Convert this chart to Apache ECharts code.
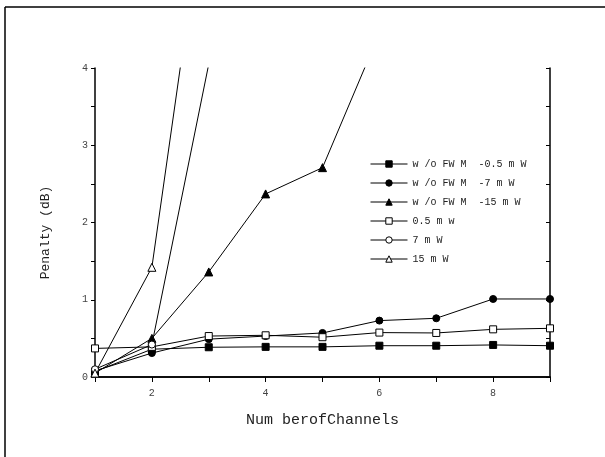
<!DOCTYPE html>
<html>
<head>
<meta charset="utf-8">
<script src="https://cdn.jsdelivr.net/npm/echarts@6/dist/echarts.min.js"></script>
<style>
html,body{margin:0;padding:0;background:#fff;}
#c{width:605px;height:457px;}
</style>
</head>
<body>
<div id="c"></div>
<script>
var channels = [1, 2, 3, 4, 5, 6, 7, 8, 9];
var seriesNames = ['w /o FW M  -0.5 m W', 'w /o FW M  -7 m W', 'w /o FW M  -15 m W', '0.5 m w', '7 m W', '15 m W'];
var fwm05 = [0.07, 0.36, 0.385, 0.39, 0.39, 0.405, 0.405, 0.415, 0.405];
var fwm7  = [0.08, 0.31, 0.49, 0.53, 0.57, 0.73, 0.76, 1.01, 1.01];
var fwm15 = [0.05, 0.50, 1.36, 2.37, 2.71, 4.45];
var mw05  = [0.37, 0.39, 0.53, 0.54, 0.515, 0.575, 0.57, 0.617, 0.63];
var mw7   = [0.10, 0.42, 4.05];
var mw15  = [0.05, 1.42, 6.6];
var xTicks = [2, 4, 6, 8];
var yTicks = [0, 1, 2, 3, 4];

var FONT = 'Liberation Mono';
function pairs(vals){ return vals.map(function(v,i){ return [channels[i], v]; }); }
function mk(name, vals, symbol, filled, size){
  return {
    name: name, type: 'line', data: pairs(vals), symbol: symbol, symbolSize: size,
    clip: true, animation: false,
    lineStyle: {color: '#000', width: 1},
    itemStyle: {color: filled ? '#000' : '#fff', borderColor: '#000', borderWidth: 1},
    emphasis: {disabled: true}
  };
}
var chart = echarts.init(document.getElementById('c'));
chart.setOption({
  backgroundColor: '#fff',
  animation: false,
  graphic: [
    {type: 'line', shape: {x1: 5, y1: 7, x2: 605, y2: 7}, style: {stroke: '#000', lineWidth: 1.5}},
    {type: 'line', shape: {x1: 5, y1: 7, x2: 5, y2: 457}, style: {stroke: '#000', lineWidth: 1.5}}
  ],
  grid: {left: 95, right: 55, top: 68, bottom: 80},
  legend: {
    orient: 'vertical', left: 370, top: 159, padding: 0, itemWidth: 37, itemHeight: 8, itemGap: 9,
    data: seriesNames,
    lineStyle: {width: 1, color: '#000'},
    itemStyle: {borderWidth: 1},
    textStyle: {fontFamily: FONT, fontSize: 10, color: '#222', lineHeight: 10}
  },
  xAxis: [
    {type: 'value', min: 1, max: 9, interval: 1, position: 'bottom',
     name: 'Num berofChannels', nameLocation: 'middle', nameGap: 36,
     nameTextStyle: {fontFamily: FONT, fontSize: 15, color: '#222'},
     axisLine: {lineStyle: {color: '#000', width: 1.5}},
     axisTick: {inside: false, length: 4, lineStyle: {color: '#000'}},
     axisLabel: {fontFamily: FONT, fontSize: 10, color: '#444', margin: 11,
       formatter: function(v){ return xTicks.indexOf(v) >= 0 ? String(v) : ''; }},
     splitLine: {show: false}},
    {type: 'value', min: 1, max: 9, interval: 1, position: 'top',
     axisLine: {lineStyle: {color: '#000', width: 1.5}},
     axisTick: {inside: true, length: 5, lineStyle: {color: '#000'}},
     axisLabel: {show: false}, splitLine: {show: false}}
  ],
  yAxis: [
    {type: 'value', min: 0, max: 4, interval: 0.5, position: 'left',
     name: 'Penalty (dB)', nameLocation: 'middle', nameGap: 43,
     nameTextStyle: {fontFamily: FONT, fontSize: 13, color: '#222', padding: [0, 20, 0, 0]},
     axisLine: {lineStyle: {color: '#000', width: 1.5}},
     axisTick: {inside: false, length: 4, lineStyle: {color: '#000'}},
     axisLabel: {fontFamily: FONT, fontSize: 10, color: '#444', margin: 7,
       formatter: function(v){ return yTicks.indexOf(v) >= 0 ? String(v) : ''; }},
     splitLine: {show: false}},
    {type: 'value', min: 0, max: 4, interval: 0.5, position: 'right',
     axisLine: {lineStyle: {color: '#000', width: 1.5}},
     axisTick: {inside: true, length: 4, lineStyle: {color: '#000'}},
     axisLabel: {show: false}, splitLine: {show: false}}
  ],
  series: [
    mk(seriesNames[0], fwm05, 'rect', true, 7),
    mk(seriesNames[1], fwm7, 'circle', true, 7),
    mk(seriesNames[2], fwm15, 'triangle', true, 8),
    mk(seriesNames[3], mw05, 'rect', false, 7),
    mk(seriesNames[4], mw7, 'circle', false, 7),
    mk(seriesNames[5], mw15, 'triangle', false, 8)
  ]
});
</script>
</body>
</html>
